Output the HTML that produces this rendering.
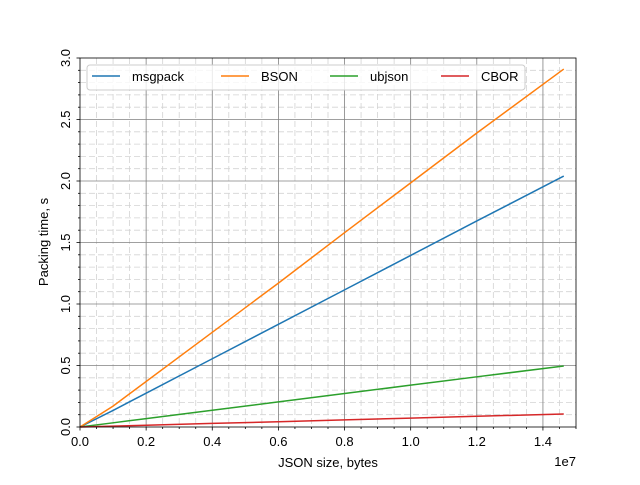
<!DOCTYPE html>
<html><head><meta charset="utf-8"><style>body{margin:0;background:#fff}svg{font-family:"Liberation Sans","DejaVu Sans",sans-serif}</style></head>
<body>
<svg id="chart" width="640" height="480" xmlns="http://www.w3.org/2000/svg"></svg>
<script>
const xs = [0, 0.1e7, 0.2e7, 0.4e7, 0.6e7, 0.8e7, 1.0e7, 1.2e7, 1.463e7];
const msgpack = [0, 0.135, 0.275, 0.555, 0.835, 1.115, 1.395, 1.675, 2.04];
const bson = [0, 0.17, 0.37, 0.77, 1.17, 1.58, 1.985, 2.39, 2.91];
const ubjson = [0, 0.034, 0.068, 0.136, 0.204, 0.272, 0.34, 0.408, 0.496];
const cbor = [0, 0.007, 0.014, 0.029, 0.043, 0.058, 0.072, 0.087, 0.106];
const seriesNames = ["msgpack", "BSON", "ubjson", "CBOR"];
const seriesColors = ["#1f77b4", "#ff7f0e", "#2ca02c", "#d62728"];
const xTicks = [0, 0.2e7, 0.4e7, 0.6e7, 0.8e7, 1.0e7, 1.2e7, 1.4e7];
const xTickLabels = ["0.0","0.2","0.4","0.6","0.8","1.0","1.2","1.4"];
const yTicks = [0, 0.5, 1.0, 1.5, 2.0, 2.5, 3.0];
const yTickLabels = ["0.0","0.5","1.0","1.5","2.0","2.5","3.0"];

const L=80,R=576,T=58,B=427;
const X=v=>L+(R-L)*v/1.5e7;
const Y=v=>B-(B-T)*v/3.0;
const svg=document.getElementById('chart');
const NS="http://www.w3.org/2000/svg";
function mk(tag,attrs,parent){const e=document.createElementNS(NS,tag);for(const k in attrs)e.setAttribute(k,attrs[k]);(parent||svg).appendChild(e);return e;}

const grid=mk('g',{});


for(let i=1;i<30;i++){const v=i*0.05e7;if(i%4===0)continue;mk('line',{x1:X(v),x2:X(v),y1:T,y2:B,stroke:'#d3d3d3','stroke-dasharray':'6,3','stroke-width':0.8},grid);}
for(let i=1;i<30;i++){const v=i*0.1;if(i%5===0)continue;mk('line',{x1:L,x2:R,y1:Y(v),y2:Y(v),stroke:'#d3d3d3','stroke-dasharray':'6,3','stroke-width':0.8},grid);}
xTicks.forEach(v=>{if(v>0)mk('line',{x1:X(v),x2:X(v),y1:T,y2:B,stroke:'#808080','stroke-width':0.8},grid);});
yTicks.forEach(v=>{if(v>0&&v<3)mk('line',{x1:L,x2:R,y1:Y(v),y2:Y(v),stroke:'#808080','stroke-width':0.8},grid);});

// ticks
for(let i=0;i<=30;i++){const v=i*0.05e7;const maj=i%4===0;mk('line',{x1:X(v),x2:X(v),y1:B,y2:B+(maj?3.5:2),stroke:'#000','stroke-width':0.8});}
for(let i=0;i<=30;i++){const v=i*0.1;const maj=i%5===0;mk('line',{x1:L,x2:L-(maj?3.5:2),y1:Y(v),y2:Y(v),stroke:'#000','stroke-width':0.8});}
xTicks.forEach((v,i)=>{const t=mk('text',{x:X(v),y:446,'font-size':13,'text-anchor':'middle'});t.textContent=xTickLabels[i];

});
yTicks.forEach((v,i)=>{const t=mk('text',{x:0,y:0,'font-size':13,'text-anchor':'middle',transform:`translate(70,${Y(v)}) rotate(-90)`});t.textContent=yTickLabels[i];

});

const data=[msgpack,bson,ubjson,cbor];
data.forEach((s,k)=>{const p=mk('polyline',{points:xs.map((x,i)=>X(x)+','+Y(s[i])).join(' '),fill:'none',stroke:seriesColors[k],'stroke-width':1.5});

});

const ax=mk('rect',{x:L,y:T,width:R-L,height:B-T,fill:'none',stroke:'#000','stroke-width':0.8});



const lg=mk('g',{});


mk('rect',{x:87,y:65,width:438,height:25,rx:3,fill:'#fff','fill-opacity':0.8,stroke:'#ccc'},lg);
const lx=[92,221,330,441];
seriesNames.forEach((n,k)=>{const e=mk('g',{},lg);


mk('line',{x1:lx[k],x2:lx[k]+28,y1:76,y2:76,stroke:seriesColors[k],'stroke-width':1.5},e);
const t=mk('text',{x:lx[k]+40,y:81,'font-size':13},e);t.textContent=n;});

let t=mk('text',{x:328,y:467,'font-size':13,'text-anchor':'middle'});t.textContent='JSON size, bytes';


t=mk('text',{x:0,y:0,'font-size':13,'text-anchor':'middle',transform:'translate(48,242) rotate(-90)'});t.textContent='Packing time, s';


t=mk('text',{x:576,y:466,'font-size':13,'text-anchor':'end'});t.textContent='1e7';


</script>
</body></html>
